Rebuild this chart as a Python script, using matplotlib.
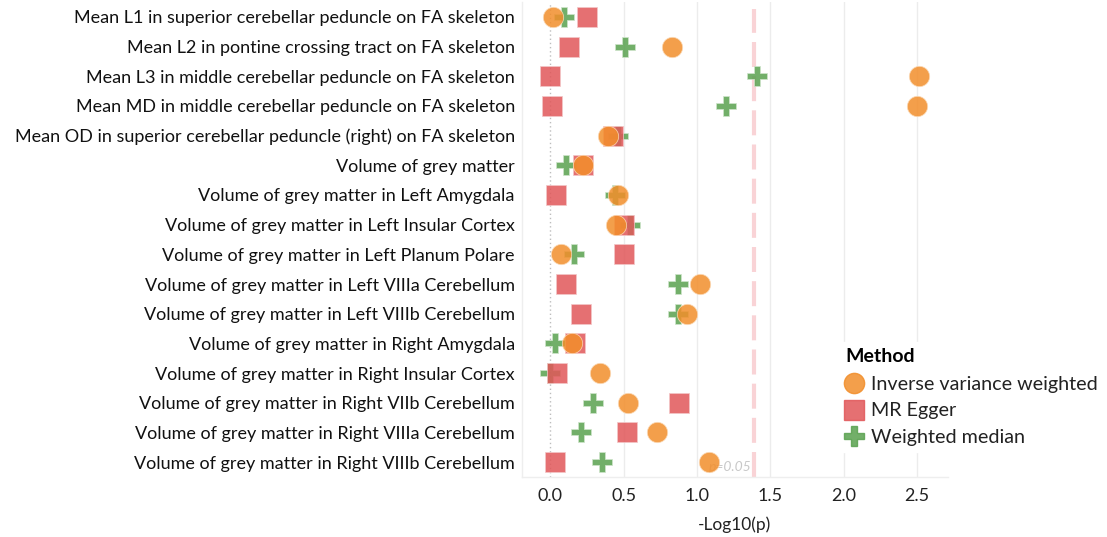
import matplotlib
matplotlib.use('Agg')
import matplotlib.pyplot as plt
from matplotlib.lines import Line2D

categories = [
    "Mean L1 in superior cerebellar peduncle on FA skeleton",
    "Mean L2 in pontine crossing tract on FA skeleton",
    "Mean L3 in middle cerebellar peduncle on FA skeleton",
    "Mean MD in middle cerebellar peduncle on FA skeleton",
    "Mean OD in superior cerebellar peduncle (right) on FA skeleton",
    "Volume of grey matter",
    "Volume of grey matter in Left Amygdala",
    "Volume of grey matter in Left Insular Cortex",
    "Volume of grey matter in Left Planum Polare",
    "Volume of grey matter in Left VIIIa Cerebellum",
    "Volume of grey matter in Left VIIIb Cerebellum",
    "Volume of grey matter in Right Amygdala",
    "Volume of grey matter in Right Insular Cortex",
    "Volume of grey matter in Right VIIb Cerebellum",
    "Volume of grey matter in Right VIIIa Cerebellum",
    "Volume of grey matter in Right VIIIb Cerebellum",
]
ivw = [0.02, 0.83, 2.51, 2.50, 0.39, 0.225, 0.46, 0.45, 0.075, 1.02, 0.93, 0.15, 0.34, 0.53, 0.73, 1.08]
egger = [0.25, 0.13, 0.00, 0.01, 0.43, 0.225, 0.04, 0.50, 0.50, 0.105, 0.21, 0.17, 0.045, 0.875, 0.52, 0.03]
wmed = [0.09, 0.51, 1.41, 1.20, 0.46, 0.11, 0.44, 0.54, 0.16, 0.87, 0.87, 0.035, 0.00, 0.29, 0.21, 0.35]
xticks = [0.0, 0.5, 1.0, 1.5, 2.0, 2.5]
threshold = 1.39
methods = ["Inverse variance weighted", "MR Egger", "Weighted median"]

plt.rcParams['font.family'] = ['Lato', 'DejaVu Sans']

W, H = 1107, 537
fig = plt.figure(figsize=(W / 100, H / 100), dpi=100)
ax = fig.add_axes([521.7 / W, 1 - 477 / H, (948 - 521.7) / W, (477 - 2) / H])

c_orange = '#F28E2B'
c_red = '#E15759'
c_green = '#59A14F'
alpha = 0.85

y = list(range(len(categories)))
ax.scatter(wmed, y, marker='P', s=14.2 ** 2, color=c_green, alpha=alpha,
           edgecolors='#cfe5cb', linewidths=0.6, zorder=3)
ax.scatter(egger, y, marker='s', s=13.8 ** 2, color=c_red, alpha=alpha,
           edgecolors='#f3c7c8', linewidths=0.6, zorder=4)
ax.scatter(ivw, y, marker='o', s=14.6 ** 2, color=c_orange, alpha=alpha,
           edgecolors='#fbd9b5', linewidths=0.6, zorder=5)

ax.set_ylim(len(categories) - 0.5, -0.5)
ax.set_xlim(-0.195, 2.71)
ax.set_yticks(y)
ax.set_yticklabels(categories, fontsize=13.0, color='#111111')
ax.set_xticks(xticks)
ax.set_xticklabels([f"{t:.1f}" for t in xticks], fontsize=13, color='#222222')
ax.tick_params(axis='both', length=0)
ax.tick_params(axis='y', pad=5)
ax.tick_params(axis='x', pad=8)
ax.set_xlabel("-Log10(p)", fontsize=12.5, color='#222222', labelpad=9)

for t in xticks[1:]:
    ax.axvline(t, color='#ececec', lw=1.0, zorder=0)
ax.axvline(0, color='#bdbdbd', lw=1.0, ls=(0, (1, 2)), zorder=1)
ax.axvline(threshold, color='#f9d3d6', lw=3, ls=(0, (6, 2.2)), ymax=0.985, zorder=2)
ax.text(threshold - 0.02, len(categories) - 0.85, "p=0.05", ha='right', va='center',
        fontsize=10, style='italic', color='#c8c8c8', zorder=2)

for s in ['top', 'right']:
    ax.spines[s].set_visible(False)
for s in ['left', 'bottom']:
    ax.spines[s].set_color('#eeeeee')
    ax.spines[s].set_linewidth(1.0)

handles = [
    Line2D([], [], marker='o', ls='', markersize=14.6, color=c_orange, alpha=alpha),
    Line2D([], [], marker='s', ls='', markersize=13.8, color=c_red, alpha=alpha),
    Line2D([], [], marker='P', ls='', markersize=14.2, color=c_green, alpha=alpha),
]
leg = fig.legend(handles, methods, loc='upper left', bbox_to_anchor=(839 / W, 1 - 342 / H),
                 frameon=True, fontsize=14.2, title="Method", handlelength=0.9,
                 handletextpad=0.4, labelspacing=0.48, borderpad=0.3, borderaxespad=0)
leg.get_frame().set_facecolor('white')
leg.get_frame().set_edgecolor('white')
leg.get_frame().set_alpha(1)
leg._legend_box.align = 'left'
leg._legend_box.sep = 8
leg.get_title().set_fontweight('bold')
leg.get_title().set_fontsize(14)
for t in leg.get_texts():
    t.set_color('#222222')
leg.set_zorder(10)

fig.savefig('out.png', dpi=100, facecolor='white')
